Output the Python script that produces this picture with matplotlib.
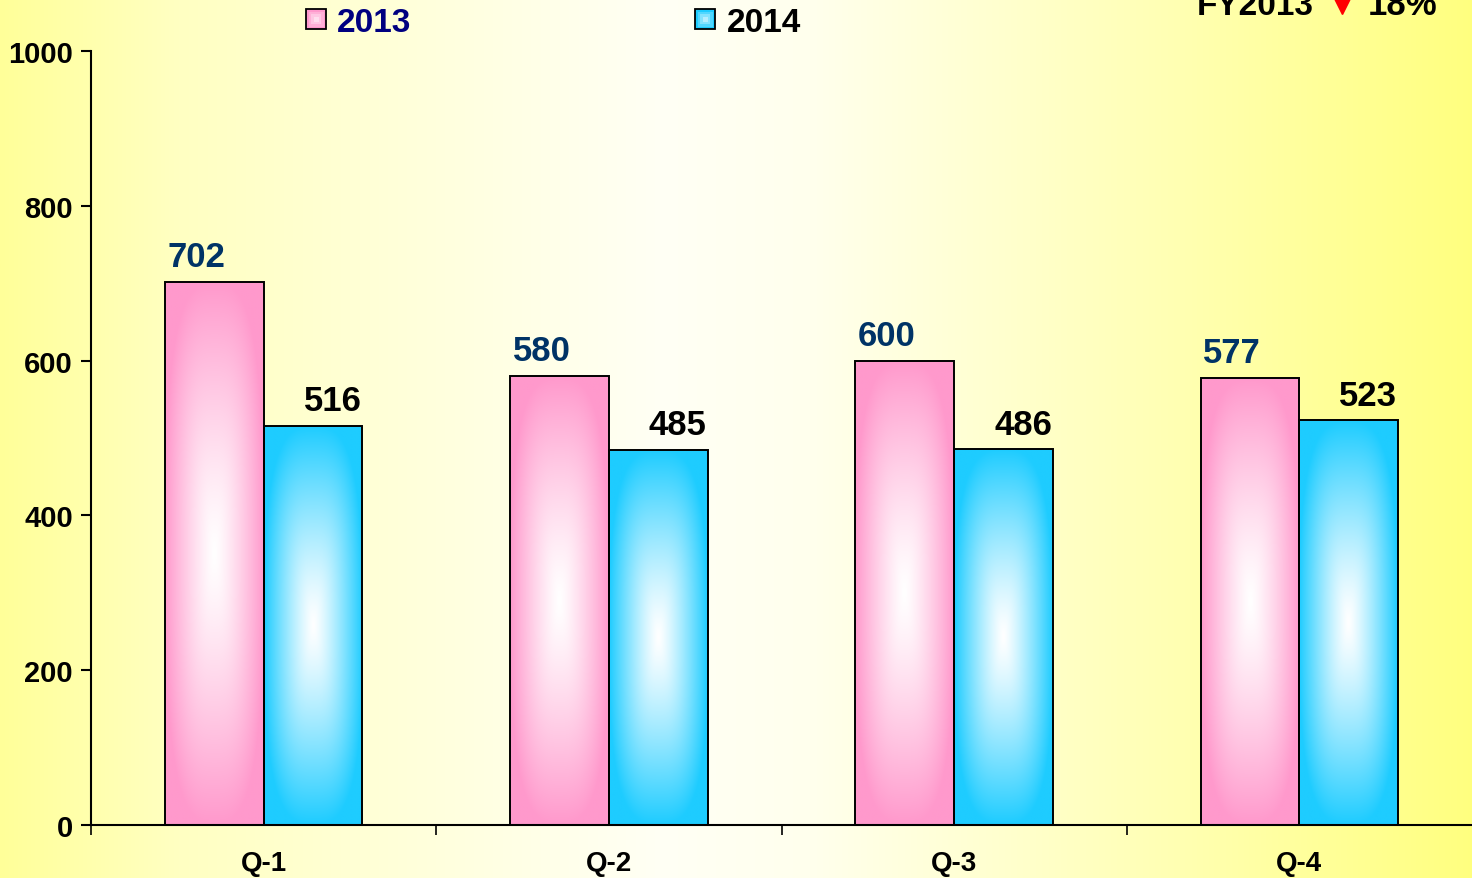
import numpy as np
import matplotlib
matplotlib.use("Agg")
import matplotlib.pyplot as plt
from matplotlib.colors import to_rgb
from matplotlib.patches import Rectangle

plt.rcParams['font.family'] = ['Liberation Sans', 'DejaVu Sans']
plt.rcParams['font.weight'] = 'bold'

quarters = ['Q-1', 'Q-2', 'Q-3', 'Q-4']
values_2013 = [702, 580, 600, 577]
values_2014 = [516, 485, 486, 523]
yticks = [0, 200, 400, 600, 800, 1000]
series_names = ['2013', '2014']
fy_label = 'FY2013'
fy_change = '18%'

W, H = 1472, 879
fig = plt.figure(figsize=(W / 100, H / 100), dpi=100)

# background gradient
bg = fig.add_axes([0, 0, 1, 1], zorder=-5)
bg.set_axis_off()
xs = np.linspace(0, 1, 800)
bch = np.interp(xs, [0, 0.12, 0.45, 0.55, 0.8, 1.0], [0.60, 0.76, 0.96, 0.93, 0.70, 0.50])
img = np.zeros((2, len(xs), 3))
img[..., 0] = 1
img[..., 1] = 1
img[..., 2] = bch
bg.imshow(img, extent=[0, 1, 0, 1], aspect='auto')
bg.set_xlim(0, 1)
bg.set_ylim(0, 1)

ax = fig.add_axes([91 / W, (H - 826) / H, (W - 91) / W, (826 - 52) / H])
ax.set_facecolor('none')

x = np.arange(len(quarters))
w = 0.286
pink = '#FF99CC'
blue = '#1ECCFF'


def grad_img(col, n=240, p=1.25, k=3.0):
    u = np.abs(np.linspace(-1, 1, n))
    v = np.abs(np.linspace(-1, 1, n))
    U, V = np.meshgrid(u, v)
    t = np.clip((U ** k + V ** k) ** (1 / k), 0, 1) ** p
    c = np.array(to_rgb(col))
    out = (1 - t)[..., None] * np.ones(3) + t[..., None] * c
    return out


bars1 = ax.bar(x - w, values_2013, w, align='edge', facecolor='none',
               edgecolor='black', lw=1.4, zorder=3)
bars2 = ax.bar(x, values_2014, w, align='edge', facecolor='none',
               edgecolor='black', lw=1.4, zorder=3)

for bars, col in ((bars1, pink), (bars2, blue)):
    g = grad_img(col)
    for b in bars:
        x0, y0 = b.get_x(), b.get_y()
        im = ax.imshow(g, extent=[x0, x0 + b.get_width(), y0, y0 + b.get_height()],
                       aspect='auto', zorder=2, interpolation='bilinear')
        im.set_clip_path(b)

for xi, v in zip(x, values_2013):
    ax.annotate(str(v), (xi - w / 2, v), xytext=(-13, 11.5), textcoords='offset points',
                ha='center', va='baseline', fontsize=25, fontweight='bold', color='#003366')
for xi, v in zip(x, values_2014):
    ax.annotate(str(v), (xi + w / 2, v), xytext=(14, 11), textcoords='offset points',
                ha='center', va='baseline', fontsize=25, fontweight='bold', color='black')

ax.set_xlim(-0.5, len(quarters) - 0.5)
ax.set_ylim(0, 1000)
ax.set_yticks(yticks)
ax.set_xticks(x)
ax.set_xticklabels(quarters)
ax.set_xticks(np.arange(-0.5, len(quarters) - 0.5, 1.0), minor=True)
ax.tick_params(axis='y', length=7, width=1.5, direction='out', pad=6, labelsize=21)
ax.tick_params(axis='x', which='major', length=0, pad=18, labelsize=20)
ax.tick_params(axis='x', which='minor', length=7, width=1.2, direction='out')
for s in ('top', 'right'):
    ax.spines[s].set_visible(False)
for s in ('left', 'bottom'):
    ax.spines[s].set_linewidth(1.5)
for lbl in ax.get_xticklabels() + ax.get_yticklabels():
    lbl.set_fontweight('bold')


# legend (manual)
def legend_square(px0, py0, size, col):
    c = np.array(to_rgb(col))
    levels = 4
    for k in range(levels):
        f = k / levels
        inset = size * 0.5 * f
        cc = c * (1 - f * 0.9) + np.ones(3) * f * 0.9
        r = Rectangle(((px0 + inset) / W, 1 - (py0 + size - inset) / H),
                      (size - 2 * inset) / W, (size - 2 * inset) / H,
                      transform=fig.transFigure, facecolor=cc,
                      edgecolor='black' if k == 0 else 'none', lw=1.3)
        fig.add_artist(r)


legend_square(306, 10, 20, pink)
fig.text(337 / W, 1 - 32 / H, series_names[0], ha='left', va='baseline',
         fontsize=24, fontweight='bold', color='#000080')
legend_square(695, 10, 20, blue)
fig.text(727 / W, 1 - 32 / H, series_names[1], ha='left', va='baseline',
         fontsize=24, fontweight='bold', color='black')

# FY annotation (partially cut off at top, as in the original)
fig.text(1197 / W, 1 - 15 / H, fy_label, ha='left', va='baseline',
         fontsize=24, fontweight='bold', color='black')
bg.plot([1342 / W], [1 - 5 / H], marker='v', markersize=15, color='red', mec='red')
fig.text(1368 / W, 1 - 15 / H, fy_change, ha='left', va='baseline',
         fontsize=25, fontweight='bold', color='black')

fig.savefig('out.png', dpi=100)
